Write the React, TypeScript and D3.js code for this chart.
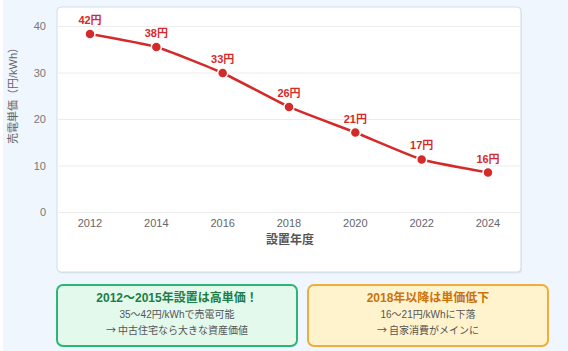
import * as d3 from 'd3';
import React, { useRef, useEffect } from 'react';

const years = [2012, 2014, 2016, 2018, 2020, 2022, 2024];
const prices = [38.4, 35.6, 30, 22.7, 17.2, 11.4, 8.6];
const priceLabels = ['42円', '38円', '33円', '26円', '21円', '17円', '16円'];
const yTicks = [0, 10, 20, 30, 40];

const greenLines = ['35〜42円/kWhで売電可能', '→ 中古住宅なら大きな資産価値'];
const orangeLines = ['16〜21円/kWhに下落', '→ 自家消費がメインに'];

const FONT = '"Liberation Sans", "Noto Sans CJK JP", sans-serif';
const CJK = '"Noto Sans CJK JP", sans-serif';

const App: React.FC = () => {
    const svgRef = useRef<SVGSVGElement | null>(null);

    useEffect(() => {
        const width = 568;
        const height = 351;
        const svg = d3.select(svgRef.current).attr('width', width).attr('height', height);
        svg.selectAll('*').remove();

        // page background
        svg.append('rect').attr('width', width).attr('height', height).attr('fill', '#eff6fd');
        svg.append('rect').attr('width', 3).attr('height', height).attr('fill', '#ffffff');

        // chart card
        const card = { x: 57, y: 7, w: 464, h: 265 };
        svg.append('rect')
            .attr('x', card.x + 1).attr('y', card.y + 1.5)
            .attr('width', card.w).attr('height', card.h)
            .attr('rx', 4).attr('fill', '#dde6f0');
        svg.append('rect')
            .attr('x', card.x).attr('y', card.y)
            .attr('width', card.w).attr('height', card.h)
            .attr('rx', 4)
            .attr('fill', '#ffffff')
            .attr('stroke', '#d3dde9')
            .attr('stroke-width', 1);

        const xScale = d3.scaleLinear().domain([2012, 2024]).range([90, 488]);
        const yScale = d3.scaleLinear().domain([0, 40]).range([212.5, 26.5]);

        // grid
        svg.append('g')
            .selectAll('line')
            .data(yTicks)
            .enter()
            .append('line')
            .attr('x1', card.x + 1)
            .attr('x2', card.x + card.w - 1)
            .attr('y1', d => yScale(d))
            .attr('y2', d => yScale(d))
            .attr('stroke', '#ececec')
            .attr('stroke-width', 1);

        // y tick labels
        svg.append('g')
            .selectAll('text')
            .data(yTicks)
            .enter()
            .append('text')
            .attr('x', 46)
            .attr('y', d => yScale(d))
            .attr('dy', '0.35em')
            .attr('text-anchor', 'end')
            .attr('font-family', FONT)
            .attr('font-size', 11)
            .attr('fill', '#777')
            .text(d => d);

        // x tick labels
        svg.append('g')
            .selectAll('text')
            .data(years)
            .enter()
            .append('text')
            .attr('x', d => xScale(d))
            .attr('y', 223)
            .attr('dy', '0.35em')
            .attr('text-anchor', 'middle')
            .attr('font-family', FONT)
            .attr('font-size', 11)
            .attr('fill', '#666')
            .text(d => d);

        // axis titles
        svg.append('text')
            .attr('x', 290).attr('y', 240)
            .attr('dy', '0.35em')
            .attr('text-anchor', 'middle')
            .attr('font-family', FONT)
            .attr('font-size', 12)
            .attr('font-weight', 'bold')
            .attr('fill', '#555')
            .text('設置年度');

        svg.append('text')
            .attr('transform', 'translate(13, 93) rotate(-90)')
            .attr('dy', '0.35em')
            .attr('text-anchor', 'middle')
            .attr('font-family', FONT)
            .attr('font-size', 11)
            .attr('fill', '#666')
            .text('売電単価（円/kWh）');

        // line
        const line = d3.line<number>()
            .x((_, i) => xScale(years[i]))
            .y(d => yScale(d))
            .curve(d3.curveCardinal.tension(0.5));

        svg.append('path')
            .datum(prices)
            .attr('d', line)
            .attr('fill', 'none')
            .attr('stroke', '#d42a2a')
            .attr('stroke-width', 2.5);

        svg.append('g')
            .selectAll('circle')
            .data(prices)
            .enter()
            .append('circle')
            .attr('cx', (_, i) => xScale(years[i]))
            .attr('cy', d => yScale(d))
            .attr('r', 5)
            .attr('fill', '#d42a2a')
            .attr('stroke', '#ffffff')
            .attr('stroke-width', 1.5);

        svg.append('g')
            .selectAll('text')
            .data(prices)
            .enter()
            .append('text')
            .attr('x', (_, i) => xScale(years[i]))
            .attr('y', d => yScale(d) - 10)
            .attr('text-anchor', 'middle')
            .attr('font-family', FONT)
            .attr('font-size', 11)
            .attr('font-weight', 'bold')
            .attr('fill', '#d42a2a')
            .text((_, i) => priceLabels[i]);

        // info boxes
        const boxes = [
            {
                x: 57, title: '2012〜2015年設置は高単価！', lines: greenLines,
                fill: '#e3f9ec', stroke: '#2bb673', titleColor: '#1d7d46',
            },
            {
                x: 308, title: '2018年以降は単価低下', lines: orangeLines,
                fill: '#fff3cd', stroke: '#f0ad3a', titleColor: '#c9730e',
            },
        ];
        const boxW = 240;
        const boxY = 285;
        const boxH = 61;

        boxes.forEach(b => {
            const g = svg.append('g');
            g.append('rect')
                .attr('x', b.x).attr('y', boxY)
                .attr('width', boxW).attr('height', boxH)
                .attr('rx', 6)
                .attr('fill', b.fill)
                .attr('stroke', b.stroke)
                .attr('stroke-width', 2);
            g.append('text')
                .attr('x', b.x + boxW / 2).attr('y', boxY + 13)
                .attr('dy', '0.35em')
                .attr('text-anchor', 'middle')
                .attr('font-family', FONT)
                .attr('font-size', 12)
                .attr('font-weight', 'bold')
                .attr('fill', b.titleColor)
                .text(b.title);
            b.lines.forEach((t, i) => {
                g.append('text')
                    .attr('x', b.x + boxW / 2).attr('y', boxY + 29 + i * 16)
                    .attr('dy', '0.35em')
                    .attr('text-anchor', 'middle')
                    .attr('font-family', t.startsWith('→') ? CJK : FONT)
                    .attr('font-size', 10)
                    .attr('fill', '#555')
                    .text(t);
            });
        });
    }, []);

    return <svg ref={svgRef} style={{ position: 'absolute', left: 0, top: 0 }}></svg>;
};

export default App;
